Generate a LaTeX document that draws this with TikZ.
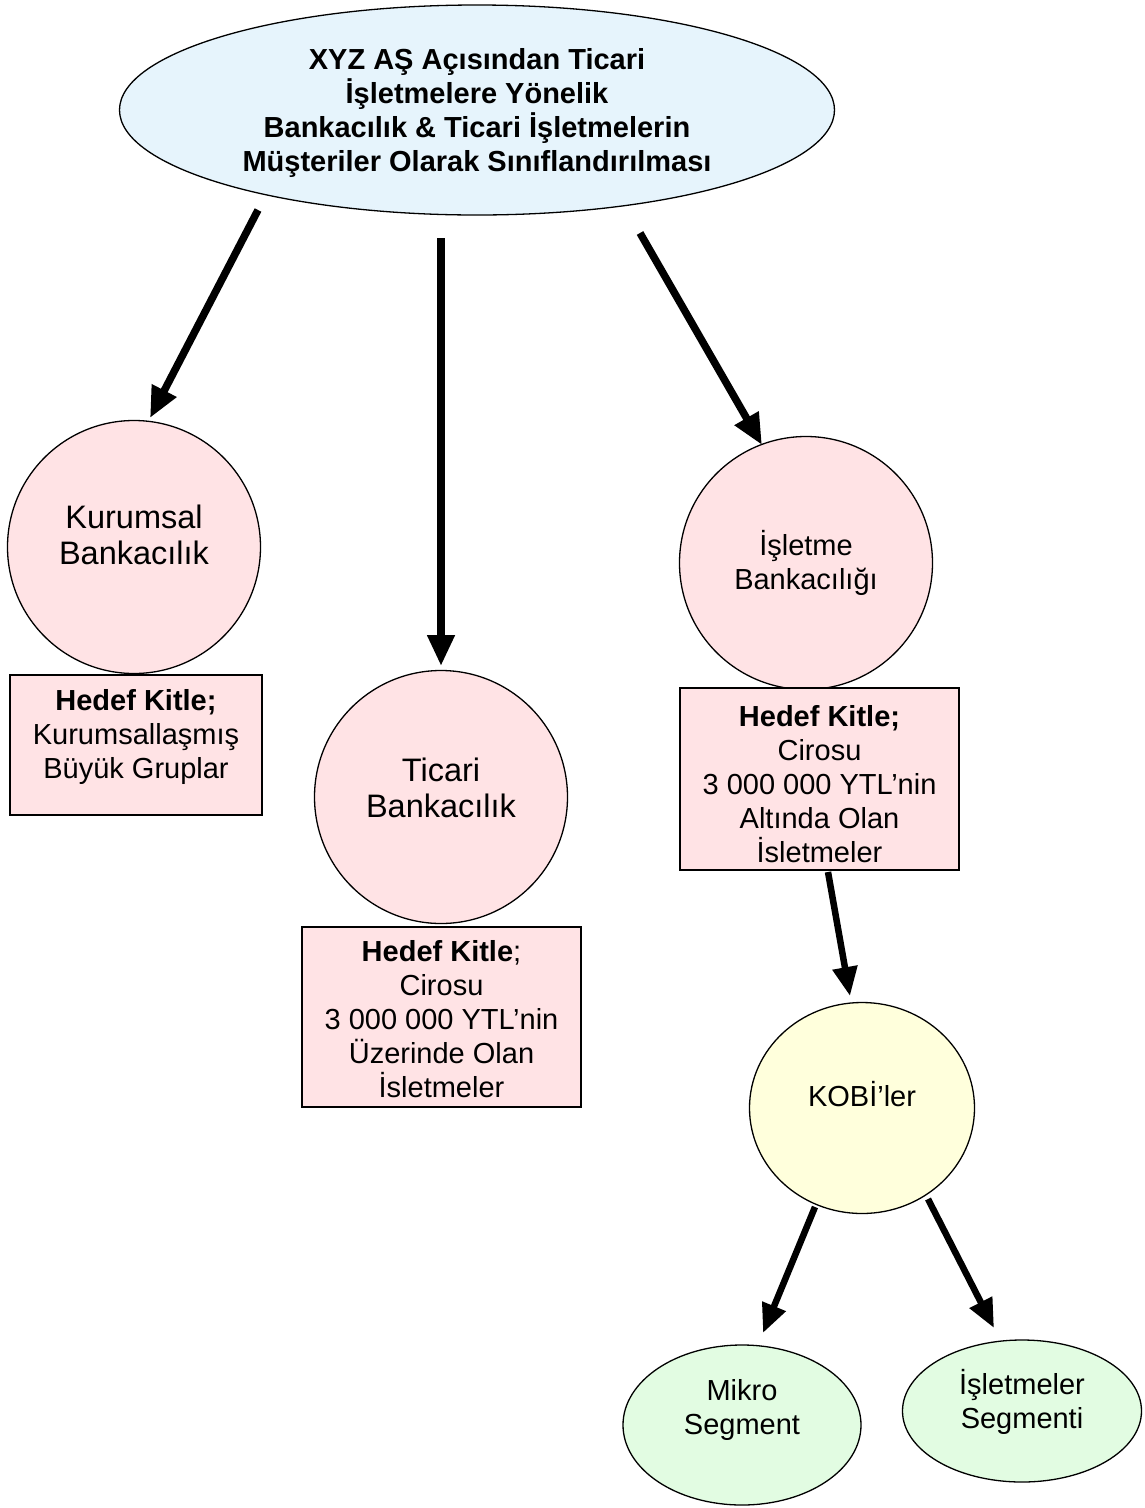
\documentclass[tikz,border=0pt]{standalone}
\usepackage{fontspec}
\setmainfont{Liberation Sans}
\usetikzlibrary{shapes.geometric,arrows.meta}
\definecolor{topblue}{HTML}{E6F4FC}
\definecolor{pinkfill}{HTML}{FFE3E5}
\definecolor{kobiyel}{HTML}{FFFFDC}
\definecolor{greenfill}{HTML}{E2FCE2}
\tikzset{
  txt/.style={font=\fontsize{29}{34}\selectfont, align=center},
  bigtxt/.style={font=\fontsize{32.5}{36.5}\selectfont, align=center},
  shapeline/.style={draw=black, line width=1.3pt, inner sep=0pt},
  topell/.style={shapeline, ellipse, fill=topblue, minimum width=715pt, minimum height=210pt},
  pinkcirc/.style={shapeline, circle, fill=pinkfill, minimum size=253pt},
  pinkbox/.style={shapeline, rectangle, fill=pinkfill},
  kobiell/.style={shapeline, ellipse, fill=kobiyel, minimum width=225pt, minimum height=211pt},
  greenell/.style={shapeline, ellipse, fill=greenfill},
  bigarrow/.style={line width=7.5pt, -{Triangle[length=31pt,width=26pt]}},
  smallarrow/.style={line width=6.5pt, -{Triangle[length=29pt,width=24pt]}}
}
\begin{document}
\begin{tikzpicture}[x=1pt,y=-1pt]
\useasboundingbox (0,0) rectangle (1145,1508);

% top ellipse
\node[topell, label={[txt, font=\fontsize{29}{34}\selectfont\bfseries, yshift=-3pt]center:{XYZ AŞ Açısından Ticari\\İşletmelere Yönelik\\Bankacılık \& Ticari İşletmelerin\\Müşteriler Olarak Sınıflandırılması}}] (top) at (477,110) {};

% circles
\node[pinkcirc, label={[bigtxt, yshift=12pt]center:{Kurumsal\\Bankacılık}}] (kur) at (134,547) {};
\node[pinkcirc, label={[bigtxt, yshift=9pt]center:{Ticari\\Bankacılık}}] (tic) at (441,797) {};
\node[pinkcirc, label={[txt, yshift=0pt]center:{İşletme\\Bankacılığı}}] (isl) at (806,563) {};

% boxes
\node[pinkbox, minimum width=252pt, minimum height=140pt,
      label={[txt, yshift=8pt]center:{\textbf{Hedef Kitle;}\\Kurumsallaşmış\\Büyük Gruplar}}] (kurbox) at (136,745) {};
\node[pinkbox, minimum width=279pt, minimum height=180pt,
      label={[txt, yshift=-2pt]center:{\textbf{Hedef Kitle};\\Cirosu\\3 000 000 YTL’nin\\Üzerinde Olan\\İsletmeler}}] (ticbox) at (441.5,1017) {};
\node[pinkbox, minimum width=279pt, minimum height=182pt,
      label={[txt, yshift=-5pt]center:{\textbf{Hedef Kitle;}\\Cirosu\\3 000 000 YTL’nin\\Altında Olan\\İsletmeler}}] (islbox) at (819.5,779) {};

% KOBI
\node[kobiell, label={[txt, yshift=14pt]center:{KOBİ’ler}}] (kobi) at (862,1108) {};

% green ellipses
\node[greenell, minimum width=238pt, minimum height=160pt,
      label={[txt, yshift=15pt]center:{Mikro\\Segment}}] (mikro) at (742,1425) {};
\node[greenell, minimum width=239pt, minimum height=142pt,
      label={[txt, yshift=9pt]center:{İşletmeler\\Segmenti}}] (isseg) at (1022,1411) {};

% connector end points
\coordinate (a1s) at (258,210);  \coordinate (a1e) at (150,418);
\coordinate (a2s) at (441,238);  \coordinate (a2e) at (441,666);
\coordinate (a3s) at (640,233);  \coordinate (a3e) at (762,445);
\coordinate (a4s) at (828,872);  \coordinate (a4e) at (850,996);
\coordinate (a5s) at (815,1207); \coordinate (a5e) at (763,1333);
\coordinate (a6s) at (928,1199); \coordinate (a6e) at (994,1328);

\draw[bigarrow] (a1s) -- (a1e);
\draw[bigarrow] (a2s) -- (a2e);
\draw[bigarrow] (a3s) -- (a3e);
\draw[smallarrow] (a4s) -- (a4e);
\draw[smallarrow] (a5s) -- (a5e);
\draw[smallarrow] (a6s) -- (a6e);
\end{tikzpicture}
\end{document}
